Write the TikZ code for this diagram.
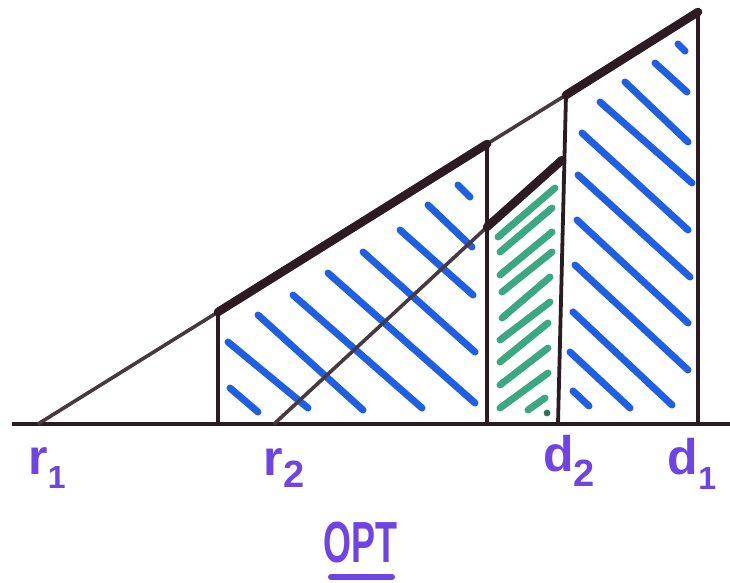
\documentclass[tikz,border=0pt]{standalone}
\usepackage{fontspec}
\setmainfont{Liberation Sans}
\definecolor{ink}{HTML}{2B1B22}
\definecolor{thinink}{HTML}{463A40}
\definecolor{hblue}{HTML}{1F5FE6}
\definecolor{hgreen}{HTML}{3AA880}
\definecolor{lpurple}{HTML}{6E44E6}
\tikzset{
  thinline/.style={draw=thinink, line width=3.6pt},
  thickline/.style={draw=ink, line width=8.5pt, line cap=round},
  baseline/.style={draw=ink, line width=4.6pt},
  vline/.style={draw=ink, line width=3.8pt},
  bluehatch/.style={draw=hblue, line width=7pt, line cap=round},
  greenhatch/.style={draw=hgreen, line width=7pt, line cap=round},
  lbl/.style={text=lpurple, font=\fontsize{50}{56}\selectfont\bfseries, inner sep=0pt, anchor=center},
}
\begin{document}
\begin{tikzpicture}[x=1pt, y=-1pt]
\useasboundingbox (0,0) rectangle (730,582);
% named points
\coordinate (L) at (12,424);
\coordinate (R) at (730,424);
\coordinate (r1) at (38,424);
\coordinate (A) at (218,312);
\coordinate (Ab) at (218,424);
\coordinate (B) at (487,144);
\coordinate (Bb) at (487,424);
\coordinate (C) at (566,95);
\coordinate (Cb) at (558,424);
\coordinate (T) at (698,12);
\coordinate (Tb) at (698,424);
\coordinate (r2) at (274,424);
\coordinate (E) at (487,227);
\coordinate (F) at (562,160);

% blue hatching left panel
\foreach \a/\b/\c/\d in {230/388/258/412, 228/342/308/408, 258/315/363/410, 293/295/422/408,
  328/273/475/403, 363/252/475/352, 400/230/473/295, 428/205/472/247, 458/185/470/197}
  \draw[bluehatch] (\a,\b) -- (\c,\d);
% blue hatching right panel
\foreach \a/\b/\c/\d in {678/44/685/51, 655/63/687/92, 625/82/688/142, 600/102/692/183,
  582/133/688/230, 578/175/690/277, 577/220/688/323, 575/265/688/370,
  573/312/672/405, 570/352/630/408, 573/391/589/406}
  \draw[bluehatch] (\a,\b) -- (\c,\d);
% green hatching
\foreach \a/\b/\c/\d in {498/237/555/188, 500/252/552/208, 500/275/552/232, 502/292/552/252,
  502/318/550/277, 500/340/550/302, 500/362/548/323, 500/385/548/348,
  500/408/548/373, 528/410/545/398}
  \draw[greenhatch] (\a,\b) -- (\c,\d);
\fill[hgreen!70!black] (547,413) circle (3.4pt);

% outline
\draw[baseline] (L) -- (R);
\draw[thinline] (r1) -- (A);
\draw[thinline] (B) -- (C);
\draw[thickline] (A) -- (B);
\draw[thickline] (C) -- (T);
\draw[vline] (A) -- (Ab);
\draw[vline] (B) -- (Bb);
\draw[vline] (C) -- (Cb);
\draw[vline] (T) -- (Tb);
\draw[thinline] (r2) -- (E);
\draw[thickline] (E) -- (F);

% labels
\node[lbl] (lr1) at (47,468) {r\raisebox{-0.28em}{\fontsize{32}{36}\selectfont 1}};
\node[lbl] (lr2) at (284,468) {r\raisebox{-0.25em}{\fontsize{38}{40}\selectfont 2}};
\node[lbl] (ld2) at (569,461) {d\raisebox{-0.3em}{\fontsize{38}{40}\selectfont 2}};
\node[lbl] (ld1) at (692,464) {d\raisebox{-0.3em}{\fontsize{32}{36}\selectfont 1}};
\node[lbl, font=\fontsize{58}{62}\selectfont\bfseries] (opt) at (360,543) {\scalebox{0.62}[1]{OPT}};
\draw[draw=lpurple, line width=6pt, line cap=round] (331,577) -- (392,577);
\end{tikzpicture}
\end{document}
